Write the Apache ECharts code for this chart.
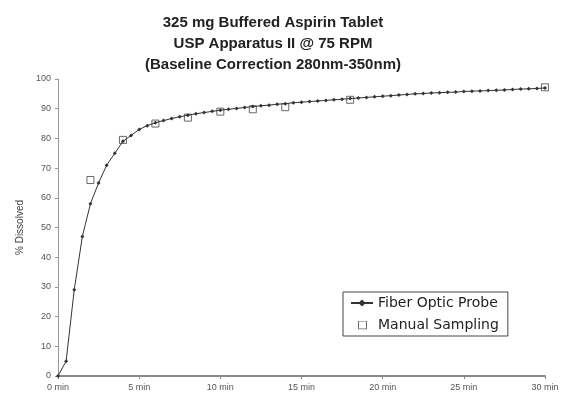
<!DOCTYPE html>
<html>
<head>
<meta charset="utf-8">
<script src="https://cdn.jsdelivr.net/npm/echarts@6/dist/echarts.min.js"></script>
<style>
html,body{margin:0;padding:0;background:#fff;}
#c{width:563px;height:400px;}
</style>
</head>
<body>
<div id="c"></div>
<script>
var titleLines = ['325 mg Buffered Aspirin Tablet', 'USP Apparatus II @ 75 RPM', '(Baseline Correction 280nm-350nm)'];
var seriesNames = ['Fiber Optic Probe', 'Manual Sampling'];
var probeTimes = [0,0.5,1,1.5,2,2.5,3,3.5,4,4.5,5,5.5,6,6.5,7,7.5,8,8.5,9,9.5,10,10.5,11,11.5,12,12.5,13,13.5,14,14.5,15,15.5,16,16.5,17,17.5,18,18.5,19,19.5,20,20.5,21,21.5,22,22.5,23,23.5,24,24.5,25,25.5,26,26.5,27,27.5,28,28.5,29,29.5,30];
var probeValues = [0,5,29,47,58,65,71,75,79,81,83,84.3,85.3,86,86.7,87.3,87.8,88.3,88.7,89.1,89.5,89.8,90.1,90.4,90.7,91,91.2,91.5,91.7,92,92.2,92.4,92.6,92.8,93,93.2,93.4,93.6,93.8,94,94.2,94.4,94.6,94.8,95,95.1,95.3,95.4,95.5,95.6,95.8,95.9,96,96.1,96.2,96.3,96.5,96.6,96.7,96.8,97];
var manualTimes = [2,4,6,8,10,12,14,18,30];
var manualValues = [66,79.5,85,87,89,89.8,90.5,93,97.2];
var yTicks = [0,10,20,30,40,50,60,70,80,90,100];
var xUnit = ' min';
var yName = '% Dissolved';

function pairs(xs, ys){ return xs.map(function(x,i){ return [x, ys[i]]; }); }

var squareIcon = 'image://data:image/svg+xml;charset=utf-8,' + encodeURIComponent(
  '<svg xmlns="http://www.w3.org/2000/svg" width="22" height="9" viewBox="0 0 22 9">' +
  '<rect x="7.5" y="0.5" width="8" height="8" fill="#fff" stroke="#444" stroke-width="1"/></svg>');

var chart = echarts.init(document.getElementById('c'), null, {renderer:'canvas'});
chart.setOption({
  backgroundColor:'#fff',
  animation:false,
  title:{
    text: titleLines.join('\n'),
    left: 268, top: 7, textAlign:'center',
    textStyle:{fontFamily:'Liberation Sans, Arial', fontWeight:'bold', fontSize:15, lineHeight:21, color:'#222'}
  },
  legend:{
    orient:'vertical', left:343, top:292,
    padding:[4,9,4,7],
    itemGap:8,
    borderColor:'#444', borderWidth:1,
    itemWidth:22, itemHeight:9,
    textStyle:{fontFamily:'DejaVu Sans', fontSize:14, color:'#222'},
    data:[{name:seriesNames[0]},{name:seriesNames[1], icon: squareIcon}]
  },
  grid:{left:58, right:18, top:79, bottom:24},
  xAxis:{
    type:'value', min:0, max:30, interval:5,
    axisLine:{lineStyle:{color:'#888', width:2}},
    axisTick:{show:true, inside:false, length:3, lineStyle:{color:'#888'}},
    axisLabel:{formatter:function(v){return v + xUnit;}, fontSize:9, color:'#555', margin:7, fontFamily:'Liberation Sans, Arial'},
    splitLine:{show:false}
  },
  yAxis:{
    type:'value', min:0, max:100, interval:10,
    name: yName, nameLocation:'middle', nameGap:33, nameRotate:90,
    nameTextStyle:{fontSize:10, color:'#444', fontFamily:'Liberation Sans, Arial'},
    axisLine:{show:true, lineStyle:{color:'#999', width:1}},
    axisTick:{show:true, length:3, lineStyle:{color:'#999'}},
    axisLabel:{fontSize:9, color:'#555', margin:7, fontFamily:'Liberation Sans, Arial',
      formatter:function(v){ return yTicks.indexOf(v) >= 0 ? String(v) : ''; }},
    splitLine:{show:false}
  },
  series:[
    {
      name: seriesNames[0], type:'line', data: pairs(probeTimes, probeValues),
      symbol:'diamond', symbolSize:4, showSymbol:true,
      lineStyle:{color:'#333', width:1},
      itemStyle:{color:'#333'}
    },
    {
      name: seriesNames[1], type:'scatter', data: pairs(manualTimes, manualValues),
      symbol:'rect', symbolSize:7,
      itemStyle:{color:'#fff', borderColor:'#444', borderWidth:1}
    }
  ]
});
</script>
</body>
</html>
